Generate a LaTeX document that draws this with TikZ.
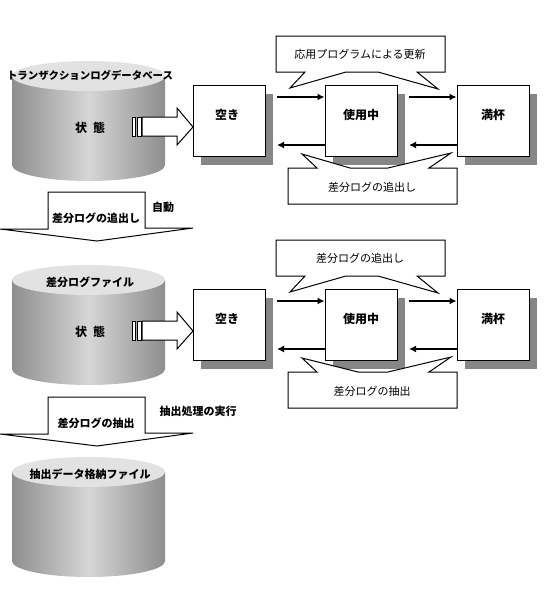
\documentclass[tikz,border=0pt]{standalone}
\usepackage{fontspec}
\setmainfont{Noto Sans CJK JP}
\usetikzlibrary{shadows,arrows.meta}
\definecolor{cylEdge}{HTML}{8E8E8E}
\definecolor{cylMid}{HTML}{D6D6D6}
\definecolor{cylTop}{HTML}{E2E2E2}
\definecolor{boxShadow}{HTML}{868686}
\tikzset{
	label/.style={font=\fontsize{11}{13}\selectfont,inner sep=0pt},
	boldlabel/.style={label,font=\fontsize{11}{13}\selectfont\bfseries},
	biglabel/.style={label,font=\fontsize{12}{14}\selectfont\bfseries},
	statebox/.style={draw=black,line width=1pt,fill=white,minimum width=72pt,minimum height=71pt,inner sep=0pt,
		copy shadow={shadow xshift=8pt,shadow yshift=-9pt,fill=boxShadow,draw=none}},
	flow/.style={line width=2pt,-{Latex[length=7pt,width=7pt]}},
	outline/.style={draw=black,line width=1pt,fill=white,line join=miter},
}
\begin{document}
\begin{tikzpicture}[x=1pt,y=-1pt]
	\useasboundingbox (0,0) rectangle (553,589);
	% cylinders
	\foreach \r/\dy/\ty/\fs/\title in {a/0/75/10.4/トランザクションログデータベース,b/204/78/11/差分ログファイル,c/396/78/11/抽出データ格納ファイル}{
		\begin{scope}[yshift=-\dy pt]
			\shade[left color=cylEdge,right color=cylEdge,middle color=cylMid] (12,76) -- (12,165) arc[start angle=180,end angle=0,x radius=76.5,y radius=16] -- (165,76) -- cycle;
			\fill[cylTop] (88.5,76) ellipse[x radius=76.5,y radius=15];
			\node[boldlabel,font=\fontsize{\fs}{13}\selectfont\bfseries] (title\r) at (90,\ty) {\title};
		\end{scope}
	}
	% state rows
	\foreach \r/\dy/\tipB/\noteA/\noteB in {a/0/350/応用プログラムによる更新/差分ログの追出し,b/204/358/差分ログの追出し/差分ログの抽出}{
		\begin{scope}[yshift=-\dy pt]
			\node[biglabel] (state\r) at (90,128) {状\hspace{6pt}態};
			\draw[outline] (142,117) -- (177,117) -- (177,108) -- (193,127) -- (177,145) -- (177,136) -- (142,136) -- cycle;
			\draw[outline] (132,117) rectangle (135,136);
			\draw[outline] (137,117) rectangle (141,136);
			\node[statebox] (empty\r) at (229,120.5) {};
			\node[statebox] (used\r) at (361,120.5) {};
			\node[statebox] (full\r) at (493,120.5) {};
			\node[biglabel] (emptytext\r) at (227,115) {空き};
			\node[biglabel] (usedtext\r) at (361,115) {使用中};
			\node[biglabel] (fulltext\r) at (493,115) {満杯};
			\coordinate (outa\r) at (277,97);
			\coordinate (outb\r) at (409,97);
			\coordinate (backa\r) at (277,145);
			\coordinate (backb\r) at (409,145);
			\draw[flow] (outa\r) -- (used\r.west |- outa\r);
			\draw[flow] (outb\r) -- (full\r.west |- outb\r);
			\draw[flow] (used\r.west |- backa\r) -- (backa\r);
			\draw[flow] (full\r.west |- backb\r) -- (backb\r);
			\draw[outline] (276,36) -- (445,36) -- (445,72) -- (417,72) -- (438,89) -- (378,72) -- (346,72) -- (290,88) -- (305,72) -- (276,72) -- cycle;
			\draw[outline] (288,168) -- (317,168) -- (302,154) -- (\tipB,168) -- (388,168) -- (451,153) -- (429,168) -- (457,168) -- (457,204) -- (288,204) -- cycle;
			\node[label] (notea\r) at (360,54.5) {\noteA};
			\node[label] (noteb\r) at (372,187) {\noteB};
		\end{scope}
	}
	% down arrows
	\foreach \r/\dy/\txt/\side/\sx/\sy in {a/0/差分ログの追出し/自動/163/207,b/205/差分ログの抽出/抽出処理の実行/198/206}{
		\begin{scope}[yshift=-\dy pt]
			\draw[outline] (48,192) -- (145,192) -- (145,228) -- (193,228) -- (97,241) -- (0,229) -- (48,229) -- cycle;
			\node[boldlabel] (pass\r) at (96,218.5) {\txt};
			\node[boldlabel] (side\r) at (\sx,\sy) {\side};
		\end{scope}
	}
\end{tikzpicture}
\end{document}
